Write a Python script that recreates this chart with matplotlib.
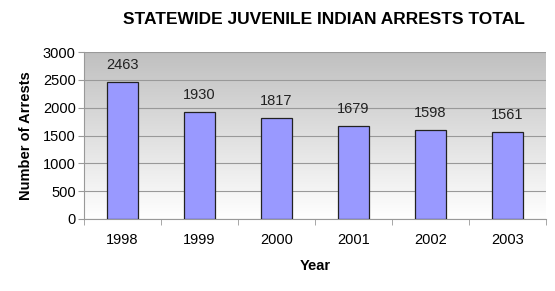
import matplotlib.pyplot as plt
import numpy as np

plt.rcParams['font.family'] = ['Liberation Sans', 'DejaVu Sans']

years = ['1998', '1999', '2000', '2001', '2002', '2003']
arrests = [2463, 1930, 1817, 1679, 1598, 1561]
y_ticks = [0, 500, 1000, 1500, 2000, 2500, 3000]

fig = plt.figure(figsize=(5.55, 2.91), dpi=100)
ax = fig.add_axes([84 / 555, 1 - 219 / 291, (546 - 84) / 555, (219 - 52) / 291])

# grey-to-white gradient plot area
grad = np.linspace(0, 1, 256).reshape(-1, 1)
ax.imshow(grad, cmap=plt.matplotlib.colors.LinearSegmentedColormap.from_list(
    'g', ['#ffffff', '#c0c0c0']), aspect='auto', extent=[0, 1, 0, 1],
    transform=ax.transAxes, origin='lower', zorder=0)

x = np.arange(len(years))
ax.bar(x, arrests, width=0.4, color='#9999ff', edgecolor='#222222',
       linewidth=0.9, zorder=3)
for xi, v in zip(x, arrests):
    ax.annotate(str(v), (xi, v), xytext=(0, 7), textcoords='offset points',
                ha='center', va='bottom', fontsize=10.5, color='#222222',
                zorder=4)

ax.set_xlim(-0.5, len(years) - 0.5)
ax.set_ylim(0, 3000)
ax.set_yticks(y_ticks)
ax.set_yticklabels([str(t) for t in y_ticks], fontsize=10.5)
ax.set_xticks(x)
ax.set_xticklabels(years, fontsize=10.5)
ax.set_xticks(np.arange(-0.5, len(years)), minor=True)
ax.tick_params(axis='x', which='major', length=0, pad=10)
ax.tick_params(axis='x', which='minor', length=4, color='#999999')
ax.tick_params(axis='y', length=4, color='#999999', pad=2)
ax.yaxis.grid(True, color='#999999', linewidth=0.8, zorder=1)
ax.set_axisbelow(True)
for s in ['top', 'right']:
    ax.spines[s].set_visible(False)
for s in ['left', 'bottom']:
    ax.spines[s].set_color('#999999')

ax.set_ylabel('Number of Arrests', fontsize=10.5, fontweight='bold', labelpad=7)
ax.set_xlabel('Year', fontsize=10.5, fontweight='bold', labelpad=9)
fig.text(324 / 555, 1 - 19.5 / 291, 'STATEWIDE JUVENILE INDIAN ARRESTS TOTAL',
         ha='center', va='center', fontsize=12.5, fontweight='bold')

fig.savefig('out.png', dpi=100)
